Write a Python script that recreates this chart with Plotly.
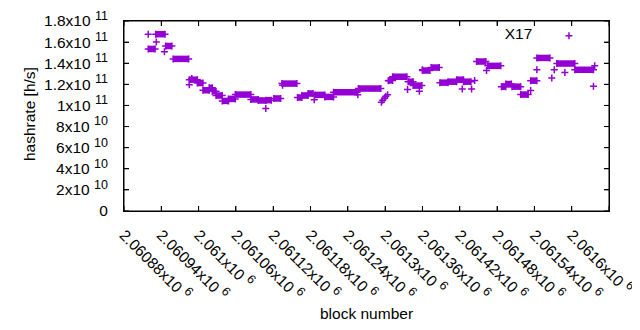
import plotly.graph_objects as go

# ---- data (hashrate in units of 1e9 h/s) ----
# runs of consecutive blocks with (nearly) constant hashrate
run_start = [2060919, 2060931, 2060947, 2060959, 2060985, 2060998, 2061007, 2061017, 2061022,
             2061028, 2061038, 2061048, 2061059, 2061084, 2061096, 2061108, 2061121, 2061134,
             2061159, 2061166, 2061176, 2061187, 2061203, 2061217, 2061257, 2061306, 2061312,
             2061337, 2061345, 2061360, 2061374, 2061388, 2061401, 2061415, 2061426, 2061447,
             2061465, 2061487, 2061494, 2061504, 2061518, 2061534, 2061544, 2061576, 2061605]
run_end = [2060930, 2060946, 2060957, 2060984, 2060998, 2061007, 2061017, 2061022, 2061028,
           2061038, 2061048, 2061059, 2061084, 2061096, 2061108, 2061117, 2061132, 2061158,
           2061166, 2061176, 2061184, 2061203, 2061217, 2061255, 2061293, 2061312, 2061335,
           2061345, 2061359, 2061372, 2061387, 2061401, 2061415, 2061426, 2061438, 2061462,
           2061486, 2061494, 2061503, 2061518, 2061530, 2061544, 2061565, 2061605, 2061635]
run_value = [153.5, 167.5, 156.3, 144.1, 124.4, 121.2, 114.4, 116.7, 113.4,
             109.4, 104.3, 106.2, 110.3, 105.7, 104.7, 105.0, 106.6, 120.7,
             107.5, 109.4, 111.3, 110.0, 108.1, 112.5, 116.0, 123.75, 127.2,
             122.5, 118.8, 133.1, 135.9, 121.6, 122.5, 124.4, 122.5, 141.6,
             137.5, 117.8, 120.3, 117.8, 110.3, 123.5, 145.0, 139.7, 133.8]

# isolated blocks
point_block = [2060919, 2060932, 2060945, 2060985, 2060989, 2061108, 2061135, 2061186, 2061256,
               2061294, 2061296, 2061299, 2061301, 2061304, 2061305, 2061336, 2061355, 2061360,
               2061424, 2061439, 2061444, 2061463, 2061534, 2061544, 2061568, 2061572, 2061589,
               2061635, 2061637]
point_value = [167.5, 160.0, 150.9, 119.7, 125.6, 97.2, 119.1, 105.5, 110.2,
               103.1, 105.0, 106.9, 108.75, 110.2, 123.5, 115.0, 113.4, 133.8,
               115.6, 115.6, 123.75, 133.1, 114.1, 133.8, 125.9, 133.8, 131.25,
               118.1, 137.5]

x_ticks = [2060880 + 60 * i for i in range(14)]
x_tick_labels = ["2.06088", "2.06094", "2.061", "2.06106", "2.06112", "2.06118", "2.06124",
                 "2.0613", "2.06136", "2.06142", "2.06148", "2.06154", "2.0616", "2.06166"]
x_tick_exp = "6"
y_ticks = [2e10 * i for i in range(10)]
y_tick_mant = ["0", "2", "4", "6", "8", "1", "1.2", "1.4", "1.6", "1.8"]
y_tick_exp = ["", "10", "10", "10", "10", "11", "11", "11", "11", "11"]

COLOR = "#9400d3"
FONT = "Liberation Sans, Arial, sans-serif"
FS = 15.5
TICK = 5
PLOT_W, PLOT_H = 485, 192


def sci(m, e):
    if not e:
        return m
    return m + "x10\u00a0<sup><span style='font-size:12.5px'>" + e + "</span></sup>"


rx, ry = [], []
for a, b, v in zip(run_start, run_end, run_value):
    rx += [a, b, None]
    ry += [v * 1e9, v * 1e9, None]

marker = dict(symbol="cross-thin", size=5, color=COLOR, line=dict(color=COLOR, width=1.5))

fig = go.Figure()
fig.add_trace(go.Scatter(x=rx, y=ry, mode="lines+markers", line=dict(color=COLOR, width=6.5),
                         marker=marker, showlegend=False, hoverinfo="skip"))
fig.add_trace(go.Scatter(x=point_block, y=[v * 1e9 for v in point_value], mode="markers",
                         marker=marker, name=" ", showlegend=True))

# frame and inward (mirrored) tick marks, placed at the axis tick values
shapes = [dict(type="rect", xref="paper", yref="paper", x0=0, y0=0, x1=1, y1=1,
               line=dict(color="black", width=1), fillcolor="rgba(0,0,0,0)", layer="above")]
tick_line = dict(color="black", width=1)
ty = TICK / PLOT_H
tx = TICK / PLOT_W
for xv in x_ticks:
    shapes.append(dict(type="line", xref="x", yref="paper", x0=xv, x1=xv, y0=0, y1=ty,
                       line=tick_line, layer="above"))
    shapes.append(dict(type="line", xref="x", yref="paper", x0=xv, x1=xv, y0=1 - ty, y1=1,
                       line=tick_line, layer="above"))
for yv in y_ticks:
    shapes.append(dict(type="line", xref="paper", yref="y", y0=yv, y1=yv, x0=0, x1=tx,
                       line=tick_line, layer="above"))
    shapes.append(dict(type="line", xref="paper", yref="y", y0=yv, y1=yv, x0=1 - tx, x1=1,
                       line=tick_line, layer="above"))

# page body has an 8px margin, so the figure is 8px smaller on each axis
fig.update_layout(
    width=632, height=322, autosize=False,
    margin=dict(l=116, r=31, t=11, b=119),
    paper_bgcolor="white", plot_bgcolor="white",
    font=dict(family=FONT, size=FS, color="black"),
    legend=dict(x=0.781, y=1.01, xanchor="left", yanchor="top", bgcolor="rgba(0,0,0,0)",
                title=dict(text="X17\u00a0\u00a0", side="left", font=dict(size=FS)),
                font=dict(size=FS)),
    xaxis=dict(range=[2060880, 2061660], tickmode="array", tickvals=x_ticks,
               ticktext=[sci(t, x_tick_exp) for t in x_tick_labels], tickangle=45,
               ticks="inside", ticklen=TICK, tickwidth=1, tickcolor="black", showline=True,
               linecolor="black", linewidth=1, mirror="ticks", showgrid=False, zeroline=False,
               automargin=False, ticklabelstandoff=8),
    yaxis=dict(range=[0, 1.8e11], tickmode="array", tickvals=y_ticks,
               ticktext=[sci(m, e) for m, e in zip(y_tick_mant, y_tick_exp)],
               ticks="inside", ticklen=TICK, tickwidth=1, tickcolor="black", showline=True,
               linecolor="black", linewidth=1, mirror="ticks", showgrid=False, zeroline=False,
               automargin=False, ticklabelstandoff=12),
    shapes=shapes,
    annotations=[
        dict(text="block number", x=0.5, y=-0.542, xref="paper", yref="paper",
             xanchor="center", yanchor="middle", showarrow=False, font=dict(size=FS)),
        dict(text="hashrate [h/s]", x=-0.196, y=0.51, xref="paper", yref="paper",
             xanchor="center", yanchor="middle", textangle=-90, showarrow=False,
             font=dict(size=FS)),
    ],
)

fig.write_html("out.html")
